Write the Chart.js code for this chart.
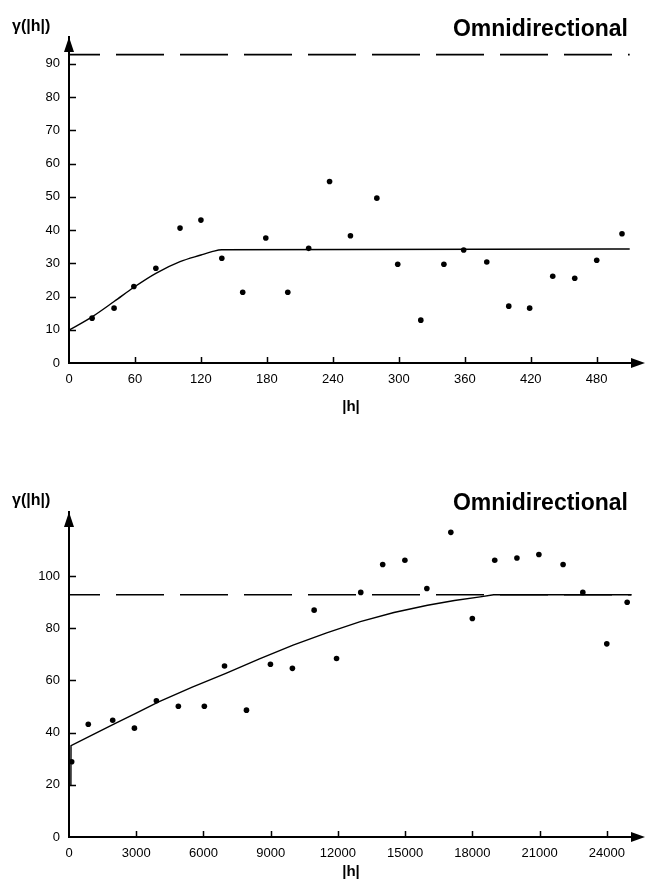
<!DOCTYPE html>
<html>
<head>
<meta charset="utf-8">
<script src="https://cdn.jsdelivr.net/npm/chart.js"></script>
<style>
  body { margin: 0; background: #fff; }
  canvas { display: block; }
</style>
</head>
<body>
<canvas id="topChart" width="645" height="441"></canvas>
<canvas id="bottomChart" width="645" height="442"></canvas>
<script>
// top panel: lag |h| and semivariance
const lagTop = [21, 41, 59, 79, 101, 120, 139, 158, 179, 199, 218, 237, 256, 280, 299, 320, 341, 359, 380, 400, 419, 440, 460, 480, 503];
const gammaTop = [13.5, 16.5, 23, 28.5, 40.6, 43, 31.5, 21.3, 37.6, 21.3, 34.5, 54.6, 38.3, 49.6, 29.7, 12.9, 29.7, 34, 30.4, 17.1, 16.5, 26.1, 25.5, 30.9, 38.9];
// fitted model
const modelTopX = [0, 21, 41, 59, 79, 101, 120, 130, 139, 510];
const modelTopY = [9.9, 13.9, 18.5, 22.8, 27, 30.5, 32.5, 33.5, 34.1, 34.3];
const sillTop = 92.8;
const xTicksTop = [0, 60, 120, 180, 240, 300, 360, 420, 480];
const yTicksTop = [0, 10, 20, 30, 40, 50, 60, 70, 80, 90];

// bottom panel
const lagBottom = [120, 860, 1950, 2920, 3900, 4880, 6040, 6940, 7920, 8990, 9970, 10940, 11940, 13020, 14000, 14990, 15970, 17040, 18000, 19000, 19990, 20970, 22050, 22930, 24000, 24910];
const gammaBottom = [28.8, 43.2, 44.7, 41.7, 52.2, 50.1, 50.1, 65.5, 48.6, 66.2, 64.6, 86.9, 68.4, 93.7, 104.4, 106, 95.2, 116.7, 83.7, 106, 106.9, 108.2, 104.4, 93.7, 74, 89.9];
const modelBottomX = [85, 90, 1000, 2000, 3000, 4000, 5500, 7000, 8500, 10000, 11500, 13000, 14500, 16000, 17200, 18350, 18950, 25100];
const modelBottomY = [19.5, 35, 38.9, 43.2, 47.5, 51.8, 57.4, 62.7, 68.2, 73.5, 78.2, 82.5, 86, 88.8, 90.6, 92, 92.8, 92.8];
const sillBottom = 92.8;
const xTicksBottom = [0, 3000, 6000, 9000, 12000, 15000, 18000, 21000, 24000];
const yTicksBottom = [0, 20, 40, 60, 80, 100];

const titleText = 'Omnidirectional';
const yTitle = 'γ(|h|)';
const xTitle = '|h|';

const pts = (xs, ys) => xs.map((v, i) => ({x: v, y: ys[i]}));

const decor = {
  id: 'decor',
  afterDraw(chart, args, o) {
    const {ctx, chartArea: a, scales: {x, y}} = chart;
    ctx.save();
    ctx.strokeStyle = '#000';
    ctx.fillStyle = '#000';
    ctx.lineWidth = 1.5;
    ctx.beginPath();
    y.ticks.forEach(t => {
      if (t.value === 0) return;
      const py = Math.round(y.getPixelForValue(t.value)) + 0.5;
      ctx.moveTo(a.left, py); ctx.lineTo(a.left + 7, py);
    });
    x.ticks.forEach(t => {
      if (t.value === 0) return;
      const px = Math.round(x.getPixelForValue(t.value)) + 0.5;
      ctx.moveTo(px, a.bottom); ctx.lineTo(px, a.bottom - 6);
    });
    ctx.stroke();
    // arrow heads
    ctx.beginPath();
    ctx.moveTo(a.left, a.top);
    ctx.lineTo(a.left - 5, a.top + 15);
    ctx.lineTo(a.left + 5, a.top + 15);
    ctx.closePath();
    ctx.fill();
    ctx.beginPath();
    ctx.moveTo(a.right + 12, a.bottom);
    ctx.lineTo(a.right - 2, a.bottom - 5);
    ctx.lineTo(a.right - 2, a.bottom + 5);
    ctx.closePath();
    ctx.fill();
    // texts
    ctx.textBaseline = 'alphabetic';
    ctx.font = 'bold 23px "Liberation Sans", Arial, sans-serif';
    ctx.textAlign = 'right';
    ctx.fillText(titleText, 628, o.titleY);
    ctx.font = 'bold 16px "Liberation Sans", Arial, sans-serif';
    ctx.textAlign = 'left';
    ctx.fillText(yTitle, 12, o.yTitleY);
    ctx.font = 'bold 15px "Liberation Sans", Arial, sans-serif';
    ctx.textAlign = 'center';
    ctx.fillText(xTitle, (a.left + a.right) / 2, a.bottom + o.xTitleOffset);
    ctx.restore();
  }
};

function makeChart(id, cfg) {
  const tickFont = {family: '"Liberation Sans", Arial, sans-serif', size: 13};
  return new Chart(document.getElementById(id), {
    type: 'scatter',
    data: {
      datasets: [
        {
          data: cfg.points,
          pointRadius: 2.8,
          pointHoverRadius: 2.8,
          backgroundColor: '#000',
          borderColor: '#000',
          borderWidth: 0,
          order: 0
        },
        {
          data: cfg.model,
          showLine: true,
          pointRadius: 0,
          borderColor: '#000',
          borderWidth: 1.4,
          cubicInterpolationMode: cfg.smooth ? 'monotone' : 'default',
          tension: 0,
          order: 1
        },
        {
          data: cfg.sill,
          showLine: true,
          pointRadius: 0,
          borderColor: '#000',
          borderWidth: 1.6,
          borderDash: [48, 16],
          borderDashOffset: 17,
          order: 2
        }
      ]
    },
    options: {
      responsive: false,
      animation: false,
      layout: {padding: {top: cfg.padTop, right: 12, left: 0, bottom: 0}},
      plugins: {
        legend: {display: false},
        tooltip: {enabled: false},
        decor: cfg.decor
      },
      scales: {
        x: {
          type: 'linear',
          min: 0,
          max: cfg.xMax,
          afterBuildTicks: s => { s.ticks = cfg.xTicks.map(v => ({value: v})); },
          afterFit: s => { s.height = cfg.xHeight; },
          grid: {display: false, drawTicks: false},
          border: {display: true, color: '#000', width: 2},
          ticks: {
            autoSkip: false,
            maxRotation: 0,
            padding: 9,
            color: '#000',
            font: tickFont,
            callback: v => String(v)
          }
        },
        y: {
          type: 'linear',
          min: 0,
          max: cfg.yMax,
          afterBuildTicks: s => { s.ticks = cfg.yTicks.map(v => ({value: v})); },
          afterFit: s => { s.width = 69; },
          grid: {display: false, drawTicks: false},
          border: {display: true, color: '#000', width: 2},
          ticks: {
            padding: 9,
            color: '#000',
            font: tickFont,
            callback: v => String(v)
          }
        }
      }
    },
    plugins: [decor]
  });
}

makeChart('topChart', {
  points: pts(lagTop, gammaTop),
  model: pts(modelTopX, modelTopY),
  sill: [{x: 0, y: sillTop}, {x: 510, y: sillTop}],
  smooth: true,
  padTop: 37,
  xHeight: 78,
  xMax: 513,
  xTicks: xTicksTop,
  yMax: 98.1,
  yTicks: yTicksTop,
  decor: {titleY: 36, yTitleY: 31, xTitleOffset: 48}
});

makeChart('bottomChart', {
  points: pts(lagBottom, gammaBottom),
  model: pts(modelBottomX, modelBottomY),
  sill: [{x: 0, y: sillBottom}, {x: 25100, y: sillBottom}],
  smooth: false,
  padTop: 71,
  xHeight: 46,
  xMax: 25170,
  xTicks: xTicksBottom,
  yMax: 124.5,
  yTicks: yTicksBottom,
  decor: {titleY: 69, yTitleY: 64, xTitleOffset: 39}
});
</script>
</body>
</html>
